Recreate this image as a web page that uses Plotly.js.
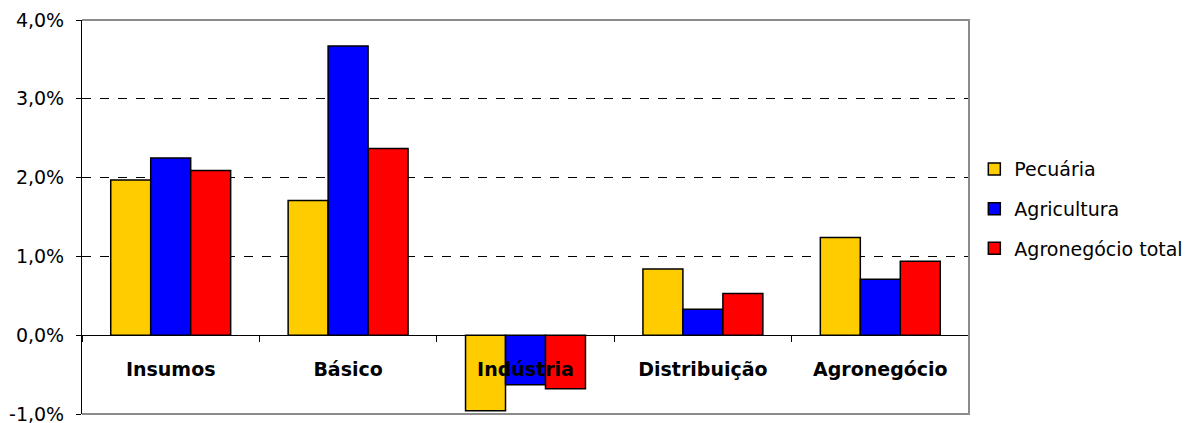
<!DOCTYPE html>
<html>
<head>
<meta charset="utf-8">
<script src="https://cdn.plot.ly/plotly-3.0.1.min.js"></script>
<style>body{margin:0;padding:0;background:#fff;}#chart{width:1185px;height:423px;}</style>
</head>
<body>
<div id="chart"></div>
<script>
const categories = ["Insumos", "Básico", "Indústria", "Distribuição", "Agronegócio"];
const seriesNames = ["Pecuária", "Agricultura", "Agronegócio total"];
const pecuaria = [1.97, 1.71, -0.96, 0.84, 1.24];
const agricultura = [2.25, 3.67, -0.63, 0.33, 0.71];
const agronegocioTotal = [2.09, 2.37, -0.68, 0.53, 0.94];
const yTickValues = [-1, 0, 1, 2, 3, 4];
const yTickLabels = ["-1,0%", "0,0%", "1,0%", "2,0%", "3,0%", "4,0%"];

const seriesValues = [pecuaria, agricultura, agronegocioTotal];
const colors = ["#FFCC00", "#0000FF", "#FF0000"];

const traces = seriesValues.map((vals, i) => ({
  type: "bar",
  name: seriesNames[i],
  x: categories,
  y: vals,
  legendgroup: "g" + i,
  marker: {color: colors[i], line: {color: "#000000", width: 1.5}},
  hoverinfo: "skip"
}));

const layout = {
  width: 1185,
  height: 423,
  margin: {l: 82, r: 216, t: 20, b: 9, autoexpand: false},
  paper_bgcolor: "#ffffff",
  plot_bgcolor: "#ffffff",
  barmode: "group",
  bargap: 0.324,
  bargroupgap: 0,
  font: {family: "DejaVu Sans, Arial, sans-serif", color: "#000000", size: 19},
  xaxis: {
    type: "category",
    anchor: "free",
    position: 0.2,
    showline: true,
    linecolor: "#000000",
    linewidth: 1,
    ticks: "outside",
    tickson: "boundaries",
    ticklen: 6,
    tickcolor: "#000000",
    tickwidth: 1,
    ticklabelstandoff: 17,
    tickfont: {family: "DejaVu Sans, Arial, sans-serif", size: 19, weight: "bold", color: "#000000"},
    showgrid: false,
    zeroline: false,
    automargin: false,
    fixedrange: true
  },
  yaxis: {
    range: [-1, 4],
    tickmode: "array",
    tickvals: yTickValues,
    ticktext: yTickLabels,
    showline: true,
    linecolor: "#000000",
    linewidth: 1,
    ticks: "outside",
    ticklen: 5,
    tickcolor: "#000000",
    ticklabelstandoff: 8,
    ticklabeloverflow: "allow",
    tickfont: {family: "DejaVu Sans, Arial, sans-serif", size: 19, color: "#000000"},
    showgrid: true,
    gridcolor: "#000000",
    gridwidth: 1,
    griddash: "9px,9px",
    zeroline: false,
    automargin: false,
    fixedrange: true
  },
  shapes: [{
    type: "path",
    xref: "paper", yref: "paper",
    path: "M0,1 L1,1 L1,0 L0,0",
    line: {color: "#8c8c8c", width: 2},
    layer: "above"
  }],
  legend: {
    x: 1.006, xanchor: "left",
    y: 0.52, yanchor: "middle",
    font: {family: "DejaVu Sans, Arial, sans-serif", size: 19, color: "#000000"},
    traceorder: "grouped",
    tracegroupgap: 12,
    bgcolor: "rgba(0,0,0,0)"
  },
  showlegend: true
};

Plotly.newPlot("chart", traces, layout, {staticPlot: true, displayModeBar: false});
</script>
</body>
</html>
